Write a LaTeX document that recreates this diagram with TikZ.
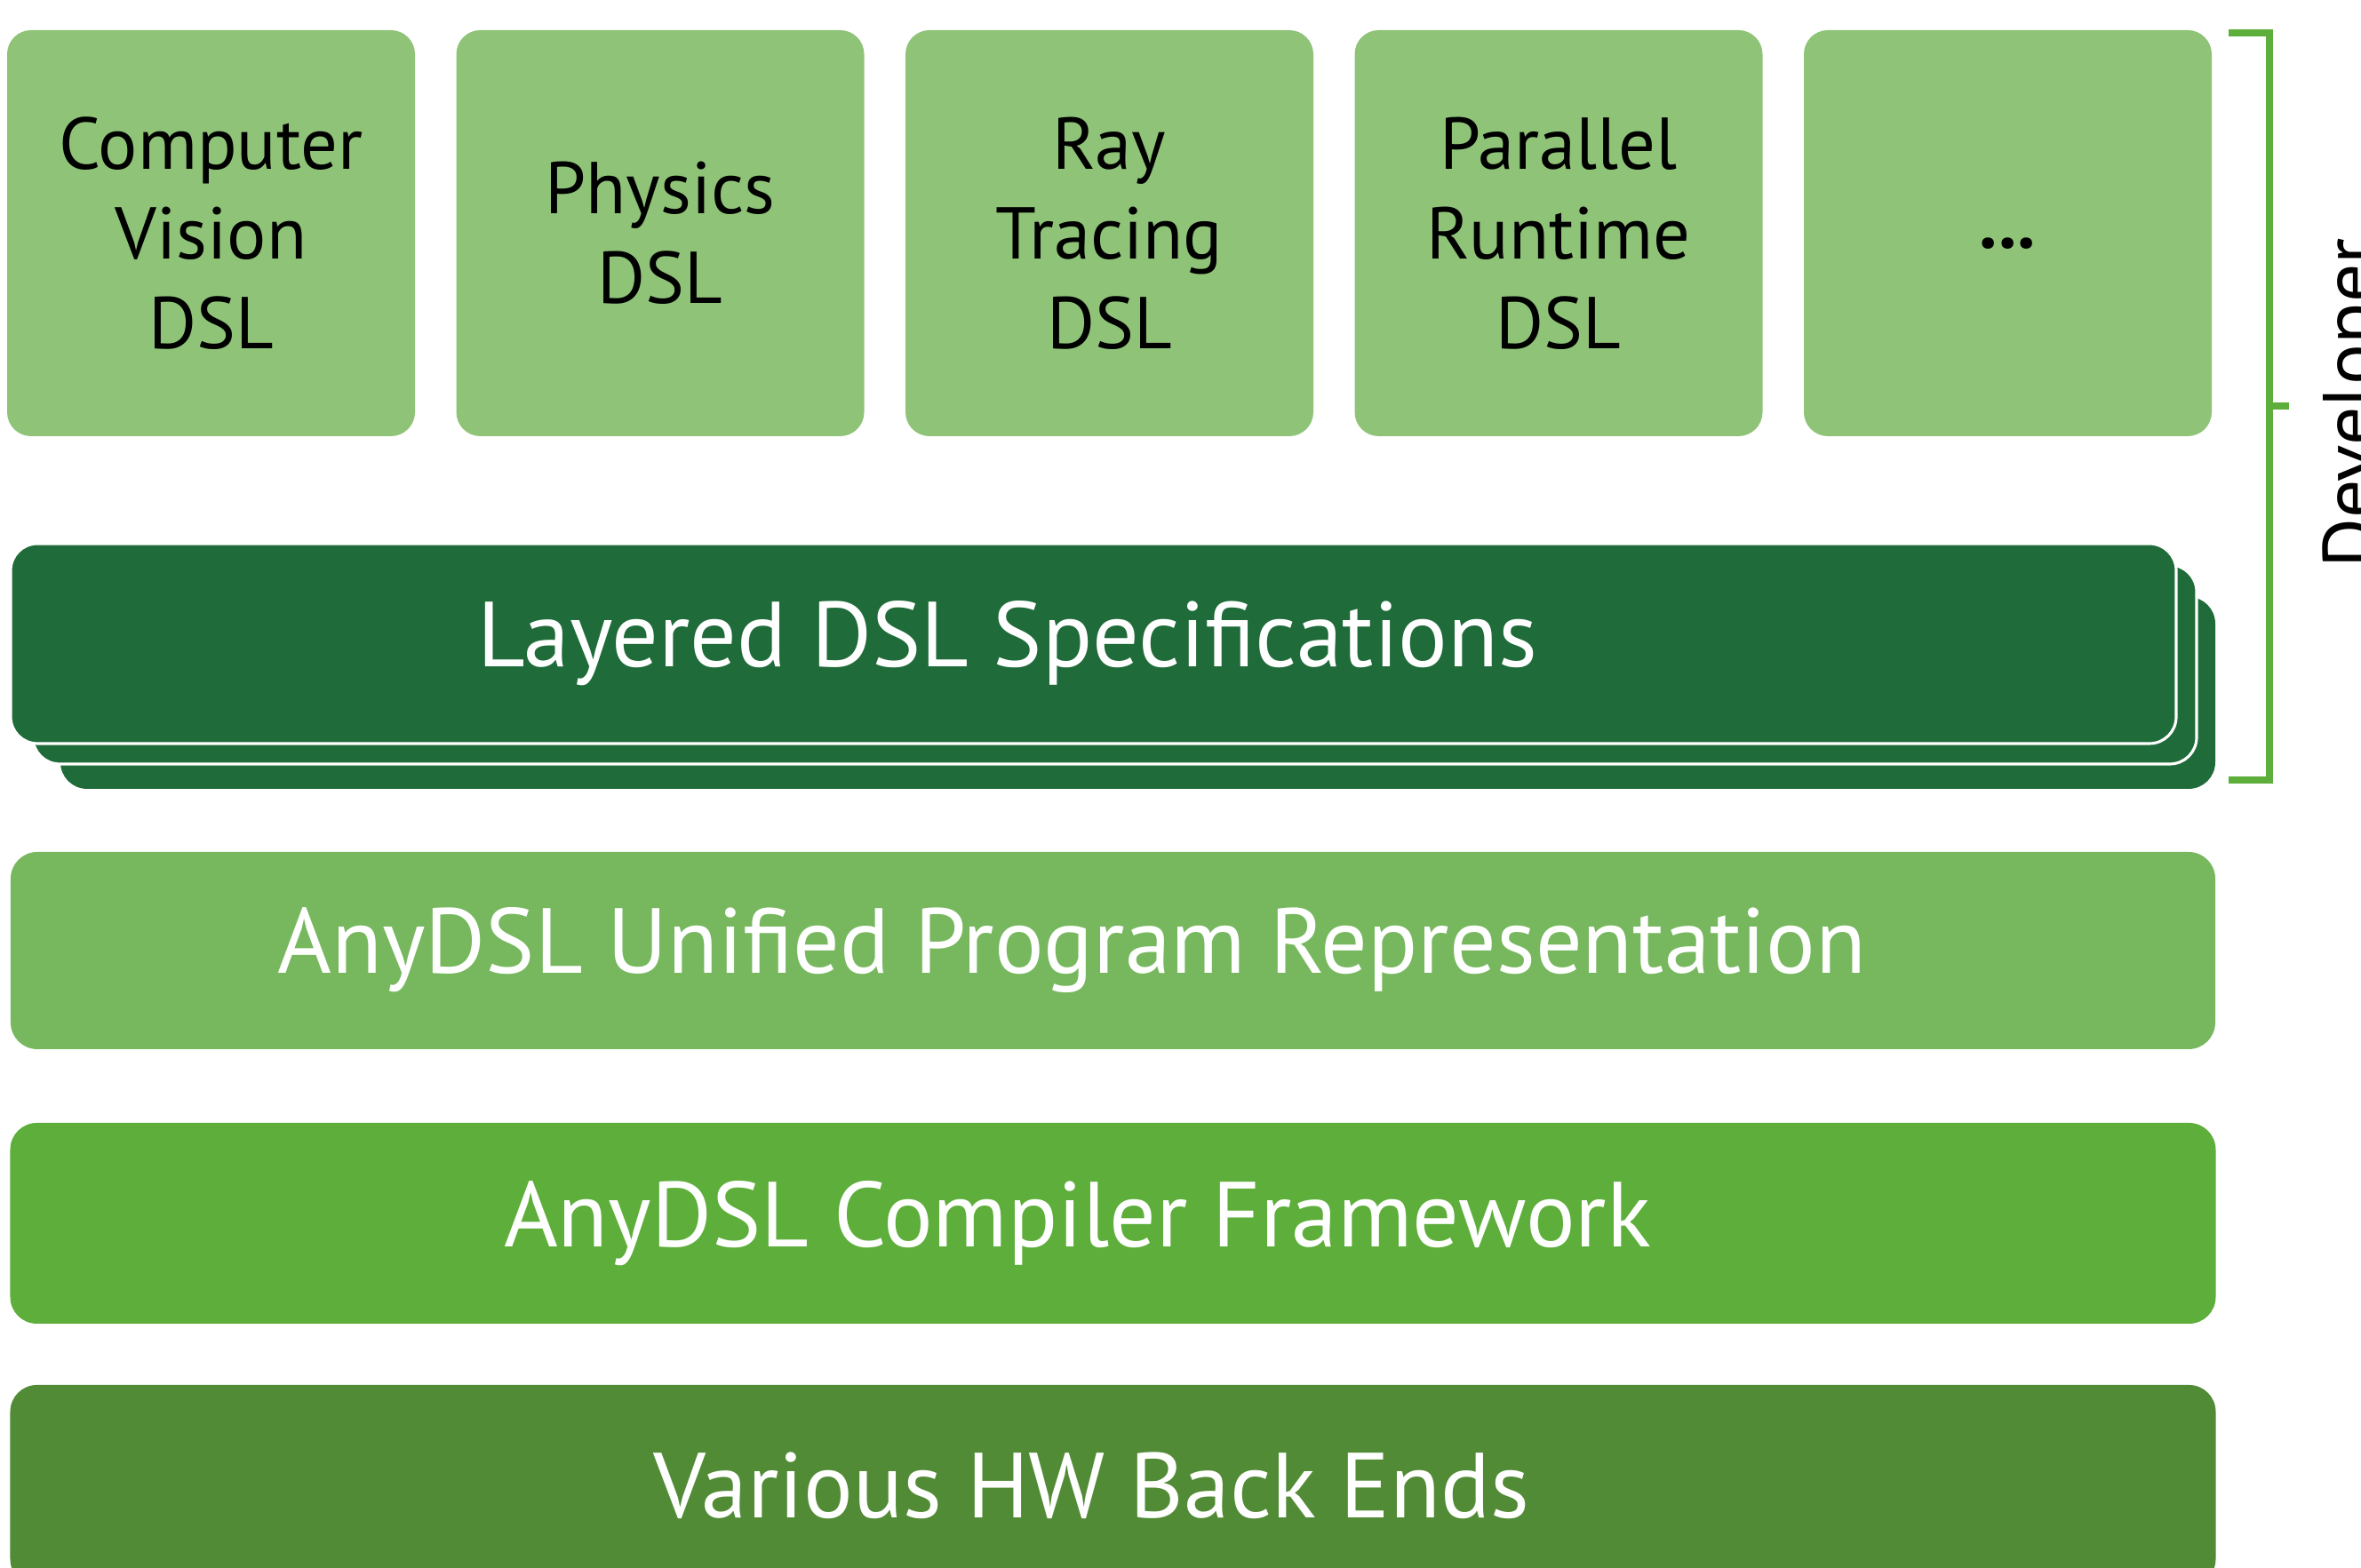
\documentclass[tikz,border=0pt]{standalone}
\usepackage{fontspec}
\setmainfont{PT Sans}
\usepackage{tikz}
\usetikzlibrary{positioning, calc}
\definecolor{dsllight}{HTML}{8FC378}
\definecolor{layerdark}{HTML}{1F6B39}
\definecolor{unifiedgreen}{HTML}{77B85F}
\definecolor{compilergreen}{HTML}{5DAE3A}
\definecolor{hwgreen}{HTML}{528B36}
\definecolor{bracketgreen}{HTML}{5DAE3A}

\begin{document}
\begin{tikzpicture}
        \tikzstyle{dslbox}=[fill=dsllight, rounded corners=0.27cm, minimum width=4.59cm, minimum height=4.57cm, inner sep=0pt, outer sep=0pt, align=center, font=\fontsize{23.5}{28.7}\selectfont]
        \tikzstyle{bar}=[rounded corners=0.3cm, minimum height=2.24cm, inner sep=0pt, outer sep=0pt, label distance=0pt]
        \tikzstyle{bartext}=[text=white, font=\fontsize{29.6}{36}\selectfont]
        \tikzstyle{sheet}=[bar, fill=layerdark, draw=white, line width=0.9pt]

        \useasboundingbox (0,0) rectangle (26.57,17.65);

        % DSL boxes on top
        \node[dslbox] (cv) at (2.375,15.025) {Computer\\Vision\\DSL};
        \node[dslbox, right = 0.465cm of cv] (physics) {Physics\\DSL};
        \node[dslbox, right = 0.465cm of physics] (ray) {Ray\\Tracing\\DSL};
        \node[dslbox, right = 0.465cm of ray] (parallel) {Parallel\\Runtime\\DSL};
        \node[dslbox, right = 0.465cm of parallel, text height=0.35cm, text depth=0pt] (more) {\textbf{...}};

        % stacked specification sheets
        \node[bar, fill=layerdark, minimum width=24.25cm, minimum height=2.16cm] (sheet3) at (12.805,9.85) {};
        \node[sheet, minimum width=24.35cm] (sheet2) at (12.545,10.17) {};
        \node[sheet, minimum width=24.37cm, minimum height=2.25cm, label={[bartext, xshift=-0.965cm]center:Layered DSL Specifications}] (layered) at (12.305,10.405) {};

        % lower layers
        \node[bar, fill=unifiedgreen, minimum width=24.81cm, minimum height=2.22cm, label={[bartext, xshift=-0.46cm]center:AnyDSL Unified Program Representation}] (unified) at (12.525,6.95) {};
        \node[bar, fill=compilergreen, minimum width=24.82cm, minimum height=2.26cm, below = 0.83cm of unified, label={[bartext, xshift=-0.40cm]center:AnyDSL Compiler Framework}] (compiler) {};
        \node[bar, fill=hwgreen, minimum width=24.82cm, minimum height=2.26cm, below = 0.69cm of compiler, label={[bartext, xshift=-0.24cm]center:Various HW Back Ends}] (backends) {};

        % developer bracket
        \coordinate (brtop) at (25.08,17.28);
        \coordinate (brbot) at (25.08,8.87);
        \coordinate (brmid) at (25.76,13.08);
        \draw[bracketgreen, line width=2.3pt] (brtop) -- (brtop -| 25.54,0) -- (brbot -| 25.54,0) -- (brbot);
        \draw[bracketgreen, line width=2.3pt] (brmid -| 25.54,0) -- (brmid);
        \node[rotate=90, anchor=north, inner sep=0pt, font=\fontsize{24.4}{29}\selectfont] (dev) at (26.13,13.11) {Developer};
    \end{tikzpicture}
\end{document}
